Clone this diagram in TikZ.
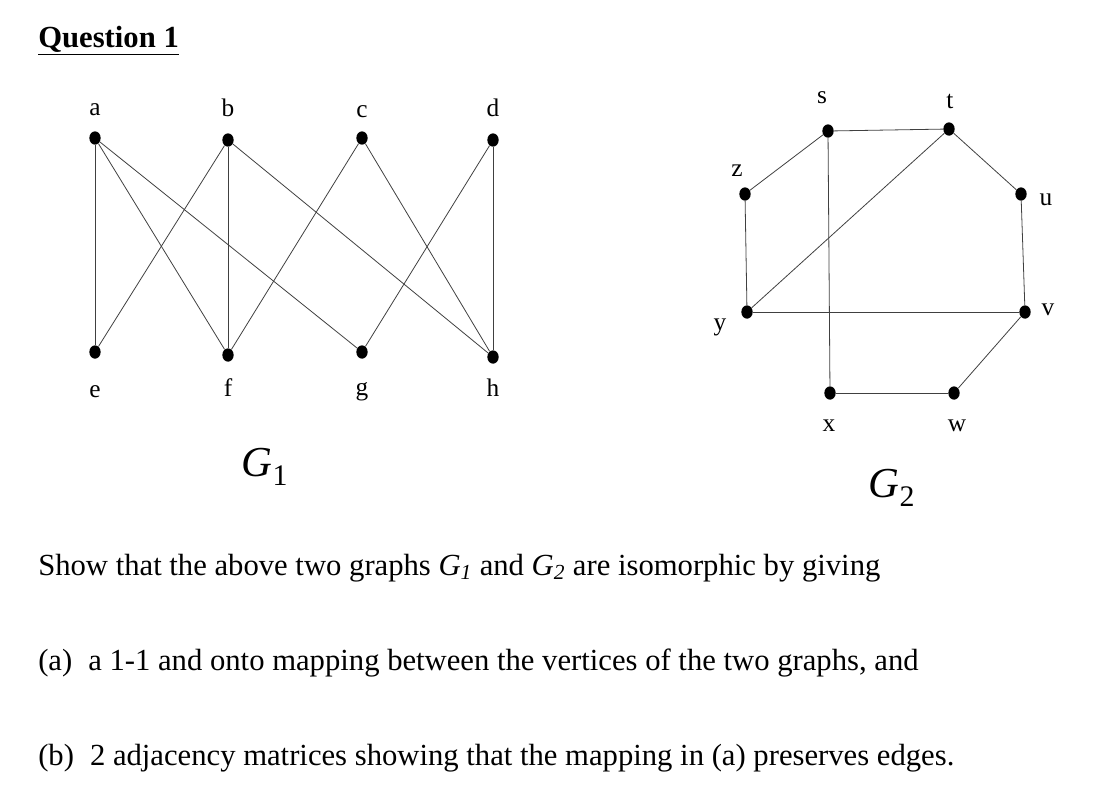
\documentclass[tikz,border=0pt]{standalone}
\usepackage{fontspec}
\setmainfont{Liberation Serif}
\usetikzlibrary{shapes.geometric}
\begin{document}
\begin{tikzpicture}[x=0.75pt,y=-0.75pt,
  v/.style={ellipse,fill=black,minimum width=8.5pt,minimum height=10pt,inner sep=0pt},
  lab/.style={font=\fontsize{19}{19}\selectfont,inner sep=0pt},
  txt/.style={font=\fontsize{23}{27}\selectfont,anchor=base west,inner sep=0pt},
  gl/.style={font=\fontsize{32}{32}\selectfont\itshape},
  e/.style={draw=black!75,line width=0.6pt}]
\useasboundingbox (0,0) rectangle (1120,794);
\node[anchor=base west,inner sep=0pt,font=\bfseries\fontsize{23}{27}\selectfont] (q) at (38,47) {\underline{Question 1}};
% G1
\node[v] (a) at (95,138) {}; \node[v] (b) at (228,140) {};
\node[v] (c) at (362,138) {}; \node[v] (d) at (493,140) {};
\node[v] (e1) at (95,352) {}; \node[v] (f) at (228,355) {};
\node[v] (g) at (362,352) {}; \node[v] (h) at (493,357) {};
\node[lab] (la) at (95,110) {a}; \node[lab] (lb) at (228,108) {b};
\node[lab] (lc) at (362,112) {c}; \node[lab] (ld) at (493,108) {d};
\node[lab] (le) at (95,392) {e}; \node[lab] (lf) at (228,388) {f};
\node[lab] (lg) at (362,392) {g}; \node[lab] (lh) at (493,388) {h};
\foreach \p/\q in {a/e1,a/f,a/g,b/e1,b/f,b/h,c/f,c/h,d/g,d/h} \draw[e] (\p) -- (\q);
\node[gl] (G1) at (265,467) {G\textsubscript{\upshape 1}};
% G2
\node[v] (s) at (828,131) {}; \node[v] (t) at (949,129) {};
\node[v] (z) at (745,194) {}; \node[v] (u) at (1021,194) {};
\node[v] (y) at (747,312) {}; \node[v] (vv) at (1025,312) {};
\node[v] (x) at (830,393) {}; \node[v] (w) at (954,393) {};
\node[lab] (ls) at (822,98) {s}; \node[lab] (lt) at (950,101) {t};
\node[lab] (lz) at (737,171) {z}; \node[lab] (lu) at (1046,200) {u};
\node[lab] (lv) at (1048,310) {v}; \node[lab] (ly) at (720,327) {y};
\node[lab] (lx) at (829,426) {x}; \node[lab] (lw) at (957,426) {w};
\foreach \p/\q in {s/t,s/z,s/x,t/y,t/u,u/vv,vv/y,vv/w,w/x,y/z} \draw[e] (\p) -- (\q);
\node[gl] (G2) at (892,488) {G\textsubscript{\upshape 2}};
% text
\node[txt] (t1) at (38,575) {Show that the above two graphs \textit{G\textsubscript{1}} and \textit{G\textsubscript{2}} are isomorphic by giving};
\node[txt] (t2) at (38,670) {(a)\hspace{12pt}a 1-1 and onto mapping between the vertices of the two graphs, and};
\node[txt] (t3) at (38,765) {(b)\hspace{12pt}2 adjacency matrices showing that the mapping in (a) preserves edges.};
\end{tikzpicture}
\end{document}
